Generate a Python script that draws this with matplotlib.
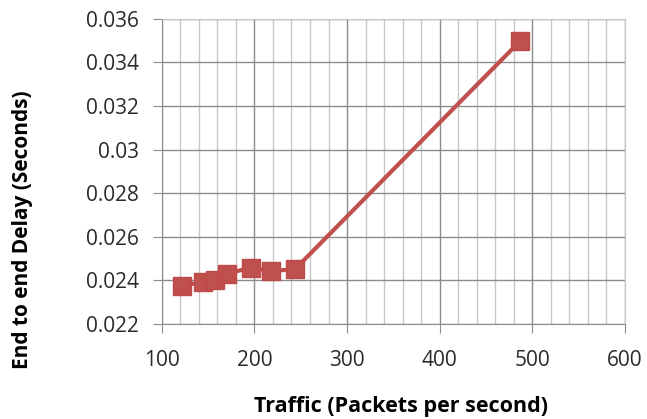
import numpy as np
import matplotlib
matplotlib.use("Agg")
import matplotlib.pyplot as plt
from matplotlib.ticker import MultipleLocator

# values
traffic = [122, 145, 158, 170, 196, 218, 244, 487]
delay = [0.02374, 0.02394, 0.02402, 0.02430, 0.02458, 0.02442, 0.02452, 0.03499]

x_ticks = [100, 200, 300, 400, 500, 600]
y_ticks = [0.022, 0.024, 0.026, 0.028, 0.03, 0.032, 0.034, 0.036]
y_labels = ["0.022", "0.024", "0.026", "0.028", "0.03", "0.032", "0.034", "0.036"]

plt.rcParams['font.family'] = ['Open Sans', 'DejaVu Sans']

fig = plt.figure(figsize=(6.47, 4.19), dpi=100)
ax = fig.add_axes([0.250, 0.227, 0.716, 0.728])

ax.plot(traffic, delay, color="#C0504D", lw=3, marker="s", ms=13,
        markeredgecolor="#BE4B48", zorder=3)

ax.set_xlim(100, 600)
ax.set_ylim(0.022, 0.036)
ax.set_xticks(x_ticks)
ax.set_yticks(y_ticks)
ax.set_yticklabels(y_labels)
ax.xaxis.set_minor_locator(MultipleLocator(20))

ax.grid(True, which="major", color="#8c8c8c", lw=1.0)
ax.grid(True, which="minor", axis="x", color="#c8c8c8", lw=1.0)
ax.set_axisbelow(True)

for s in ax.spines.values():
    s.set_color("#8c8c8c")
ax.spines["top"].set_color("#c8c8c8")
ax.spines["right"].set_color("#c8c8c8")

ax.tick_params(axis="both", which="major", labelsize=15, colors="#8c8c8c",
               labelcolor="#2a2a2a", length=6.5)
ax.tick_params(axis="y", which="major", pad=10)
ax.tick_params(axis="x", which="major", pad=12)
ax.tick_params(axis="both", which="minor", length=0)

ax.set_xlabel("Traffic (Packets per second)", fontsize=15.5, fontweight="bold")
ax.set_ylabel("End to end Delay (Seconds)", fontsize=15, fontweight="bold")
ax.xaxis.set_label_coords(0.516, -0.235)
ax.yaxis.set_label_coords(-0.30, 0.308)
ax.yaxis.label.set_va("center")
ax.xaxis.label.set_va("top")

fig.savefig("out.png", dpi=100)
